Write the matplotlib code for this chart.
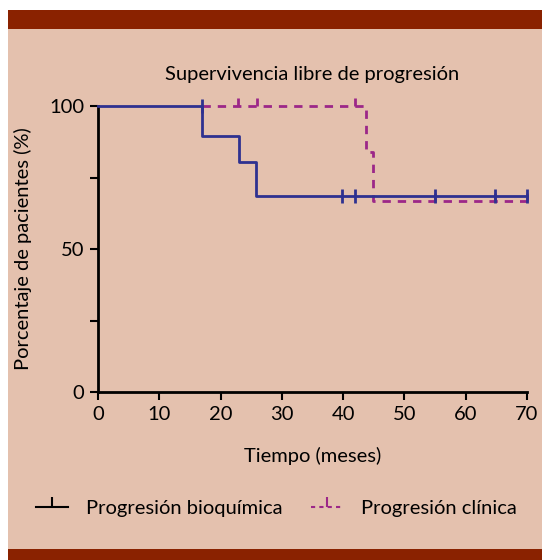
import matplotlib.pyplot as plt
from matplotlib.patches import Rectangle
from matplotlib.lines import Line2D

# Kaplan-Meier step data (months, % patients)
bio_time = [0, 17, 23, 25.7, 70]
bio_surv = [100, 89.5, 80.5, 68.5, 68.5]
bio_cens_t = [17, 39.8, 42, 55, 64.7, 70]
bio_cens_s = [100, 68.5, 68.5, 68.5, 68.5, 68.5]

cli_time = [17, 43.8, 44.8, 70]
cli_surv = [100, 84, 66.7, 66.7]
cli_cens_t = [22.9, 25.9, 42, 55, 64.7, 70]
cli_cens_s = [100, 100, 100, 66.7, 66.7, 66.7]

x_ticks = [0, 10, 20, 30, 40, 50, 60, 70]
y_ticks = [0, 50, 100]

BG = '#E4C1AE'
BAR = '#8A2200'
BLUE = '#2E3190'
MAG = '#9C2788'
FS = 14.5

plt.rcParams['font.family'] = ['Lato', 'DejaVu Sans']

fig = plt.figure(figsize=(5.42, 5.60), dpi=100, facecolor='white')
fig.patches.append(Rectangle((8 / 542, 11 / 560), 1, 521 / 560, transform=fig.transFigure,
                             facecolor=BG, edgecolor='none', zorder=-10))
fig.patches.append(Rectangle((8 / 542, 531 / 560), 1, 19 / 560, transform=fig.transFigure,
                             facecolor=BAR, edgecolor='none', zorder=-10))
fig.patches.append(Rectangle((8 / 542, 0), 1, 11 / 560, transform=fig.transFigure,
                             facecolor=BAR, edgecolor='none', zorder=-10))

ax = fig.add_axes([98 / 542, 1 - 392 / 560, 429 / 542, 286 / 560])
ax.set_facecolor('none')

# magenta dashed curve
ax.step(cli_time, cli_surv, where='post', color=MAG, lw=2, ls=(0, (3, 2.5)),
        clip_on=False, zorder=3)
ax.plot(cli_cens_t, cli_cens_s, ls='none', marker=2, ms=6, mew=2, color=MAG,
        clip_on=False, zorder=3)

# blue solid curve
ax.step(bio_time, bio_surv, where='post', color=BLUE, lw=2, clip_on=False, zorder=4)
ax.plot(bio_cens_t, bio_cens_s, ls='none', marker='|', ms=10, mew=2, color=BLUE,
        clip_on=False, zorder=4)

ax.set_xlim(0, 70)
ax.set_ylim(0, 100)
ax.set_xticks(x_ticks)
ax.set_yticks(y_ticks)
ax.set_yticks([25, 75], minor=True)
ax.tick_params(axis='both', which='both', direction='out', length=6, width=1.5,
               labelsize=FS, pad=4)
for s in ['top', 'right']:
    ax.spines[s].set_visible(False)
for s in ['left', 'bottom']:
    ax.spines[s].set_linewidth(2)

ax.set_title('Supervivencia libre de progresión', fontsize=FS, pad=19)
ax.set_xlabel('Tiempo (meses)', fontsize=FS, labelpad=17)
ax.set_ylabel('Porcentaje de pacientes (%)', fontsize=FS, labelpad=12)

h1 = Line2D([], [], color='black', lw=1.5, marker=2, ms=7, mew=1.5)
h2 = Line2D([], [], color=MAG, lw=1.5, ls=(0, (2, 2)), marker=2, ms=7, mew=1.5)
fig.legend([h1, h2], ['Progresión bioquímica', 'Progresión clínica'],
           loc='center', bbox_to_anchor=(0.51, 1 - 508 / 560), ncol=2, frameon=False,
           fontsize=FS, handlelength=1.6, columnspacing=1.4, handletextpad=0.9)

fig.savefig('out.png', dpi=100, facecolor='white')
